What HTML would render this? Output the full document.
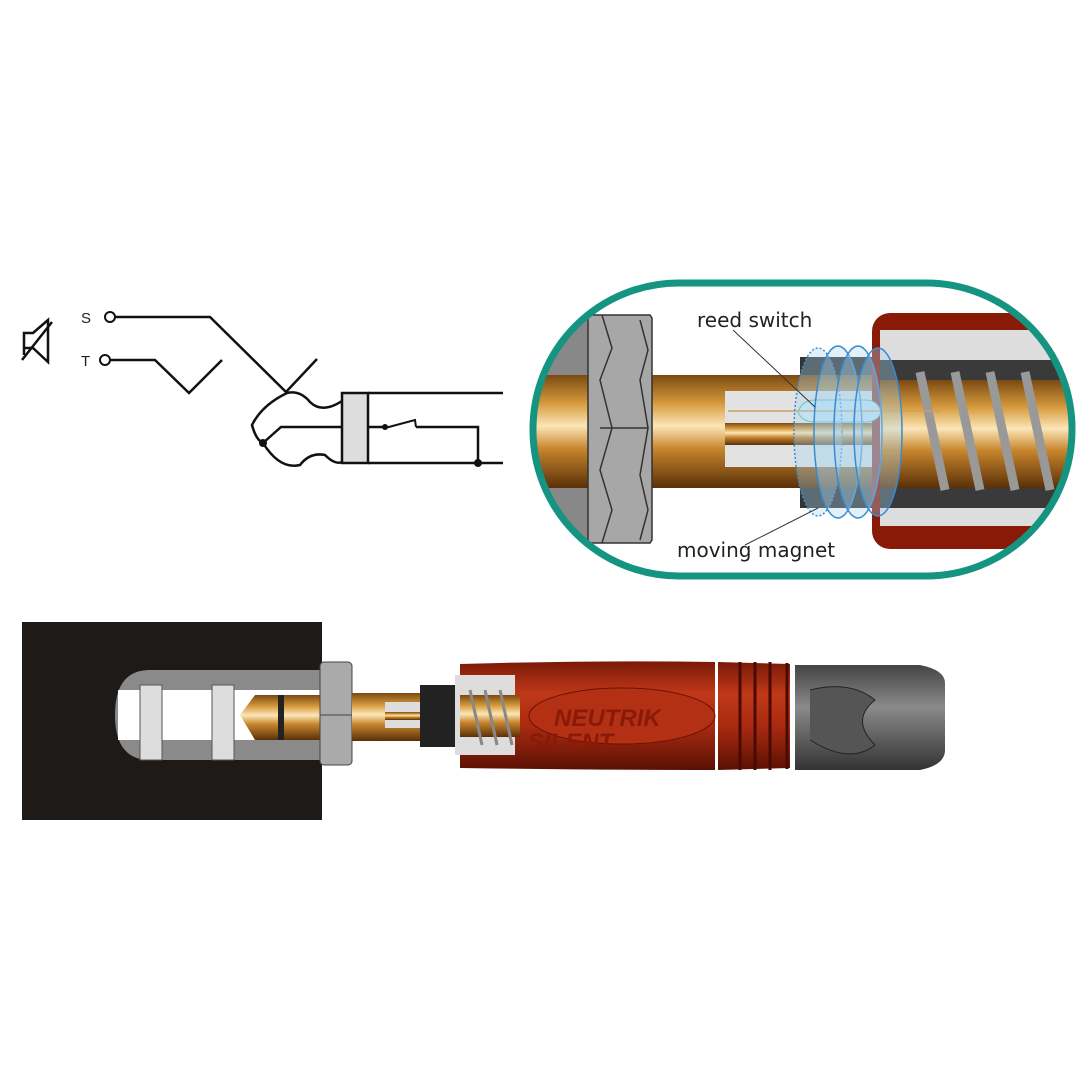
<!DOCTYPE html>
<html><head><style>body{margin:0;background:#fff}svg{display:block}</style></head><body>
<svg width="1080" height="1080" viewBox="0 0 1080 1080" xmlns="http://www.w3.org/2000/svg">
<defs>
<linearGradient id="gold" x1="0" y1="0" x2="0" y2="1">
<stop offset="0" stop-color="#7a4a12"/><stop offset="0.25" stop-color="#d69a3c"/><stop offset="0.45" stop-color="#fbe6b8"/><stop offset="0.65" stop-color="#c8862e"/><stop offset="1" stop-color="#5a3008"/></linearGradient>
<linearGradient id="red" x1="0" y1="0" x2="0" y2="1">
<stop offset="0" stop-color="#7a1a08"/><stop offset="0.3" stop-color="#c03818"/><stop offset="0.6" stop-color="#a82a10"/><stop offset="1" stop-color="#5a1004"/></linearGradient>
<linearGradient id="gray" x1="0" y1="0" x2="0" y2="1">
<stop offset="0" stop-color="#444"/><stop offset="0.4" stop-color="#8a8a8a"/><stop offset="1" stop-color="#333"/></linearGradient>
<clipPath id="ins"><rect x="533" y="283" width="539" height="293" rx="146"/></clipPath>
</defs>
<!-- schematic -->
<g fill="none" stroke="#111" stroke-width="2.5">
<path d="M24 355 L24 333 L33 333 L48 320 L48 362 L33 348 L24 348" stroke-width="2.5"/>
<path d="M22 360 L52 322"/>
<circle cx="110" cy="317" r="5" stroke-width="2"/>
<circle cx="105" cy="360" r="5" stroke-width="2"/>
<path d="M115 317 H210 L287 393"/>
<path d="M110 360 H155 L189 393 L222 360"/>
<path d="M317 359 L286 392"/>
<path d="M287 393 Q300 390 310 402 Q322 414 342 401"/>
<path d="M287 393 Q262 405 252 425 Q256 440 263 443 Q280 470 300 465 Q310 452 325 455 Q335 465 342 462"/>
<path d="M263 443 L281 427 H385 M416 427 H478 V463"/>
<path d="M368 393 H503 M368 463 H503"/>
<rect x="342" y="393" width="26" height="70" fill="#ddd"/>
</g>
<path d="M385 428 L415 420 L416 427" fill="none" stroke="#111" stroke-width="2"/>
<circle cx="385" cy="427" r="3" fill="#111"/>
<circle cx="263" cy="443" r="4" fill="#111"/>
<circle cx="478" cy="463" r="4" fill="#111"/>
<text x="81" y="323" font-family="Liberation Sans, sans-serif" font-size="15" fill="#222">S</text>
<text x="81" y="366" font-family="Liberation Sans, sans-serif" font-size="15" fill="#222">T</text>

<!-- inset -->
<g clip-path="url(#ins)">
<rect x="530" y="280" width="550" height="300" fill="#fff"/>
<rect x="530" y="315" width="60" height="60" fill="#888"/>
<rect x="530" y="488" width="60" height="55" fill="#888"/>
<rect x="530" y="375" width="550" height="113" fill="url(#gold)"/>
<rect x="725" y="391" width="215" height="76" fill="#e2e2e2"/>
<rect x="725" y="423" width="215" height="22" fill="url(#gold)"/>
<rect x="800" y="357" width="72" height="18" fill="#333"/>
<rect x="800" y="488" width="72" height="20" fill="#333"/>
<path d="M588 315 H650 L652 318 V540 L650 543 H588 Z" fill="#a7a7a7" stroke="#333" stroke-width="1.5"/>
<path d="M602 315 L612 348 L600 380 L612 428 L600 470 L612 510 L602 543 M640 320 L648 350 L640 380 L648 428 L640 475 L648 510 L640 540 M600 428 H648" fill="none" stroke="#333" stroke-width="1.5"/>
<rect x="872" y="313" width="210" height="236" rx="18" fill="#8a1a08"/>
<rect x="880" y="330" width="200" height="196" fill="#ddd"/>
<rect x="880" y="360" width="200" height="20" fill="#3a3a3a"/>
<rect x="880" y="488" width="200" height="20" fill="#3a3a3a"/>
<rect x="880" y="380" width="200" height="108" fill="url(#gold)"/>
<g stroke="#999" stroke-width="9" fill="none">
<path d="M920 372 L945 490 M955 372 L980 490 M990 372 L1015 490 M1025 372 L1050 490"/>
</g>
<path d="M798 412 Q802 400 815 400 H865 Q878 400 881 412 Q878 422 865 422 H815 Q802 422 798 412Z" fill="#cfe8f3" stroke="#5aa" stroke-width="1"/>
<path d="M728 411 H940" stroke="#c9a060" stroke-width="1.5"/>
<g fill="#a8d8f0" fill-opacity="0.35" stroke="#3a8ad0" stroke-width="1.5">
<ellipse cx="818" cy="432" rx="24" ry="84" stroke-dasharray="2 2"/>
<ellipse cx="838" cy="432" rx="24" ry="86"/>
<ellipse cx="858" cy="432" rx="24" ry="86"/>
<ellipse cx="878" cy="432" rx="24" ry="84"/>
</g>
</g>
<rect x="533" y="283" width="539" height="293" rx="146" fill="none" stroke="#169482" stroke-width="7"/>
<path d="M733 330 L815 407 M745 545 L818 508" stroke="#333" stroke-width="1"/>
<text x="697" y="327" font-family="DejaVu Sans, sans-serif" font-size="20" fill="#222">reed switch</text>
<text x="677" y="557" font-family="DejaVu Sans, sans-serif" font-size="20" fill="#222">moving magnet</text>

<!-- bottom plug -->
<rect x="22" y="622" width="300" height="198" fill="#1e1a18"/>
<path d="M150 670 H322 V760 H150 Q115 760 115 715 Q115 670 150 670Z" fill="#8a8a8a"/>
<rect x="118" y="690" width="204" height="50" fill="#fff"/>
<rect x="140" y="685" width="22" height="75" fill="#ddd" stroke="#555"/>
<rect x="212" y="685" width="22" height="75" fill="#ddd" stroke="#555"/>
<path d="M240 715 L255 695 H270 V740 H255 Z" fill="url(#gold)"/>
<rect x="270" y="695" width="52" height="45" fill="url(#gold)"/>
<rect x="278" y="695" width="6" height="45" fill="#222"/>
<rect x="320" y="662" width="32" height="103" rx="4" fill="#aaa" stroke="#444"/>
<path d="M320 715 H352" stroke="#444"/>
<rect x="352" y="693" width="110" height="48" fill="url(#gold)"/>
<rect x="385" y="702" width="75" height="26" fill="#ddd"/>
<rect x="385" y="712" width="75" height="8" fill="url(#gold)"/>
<rect x="420" y="685" width="35" height="62" fill="#222"/>
<path d="M460 664 Q600 660 715 662 V770 Q600 770 460 768 Z" fill="url(#red)"/>
<rect x="455" y="675" width="60" height="80" fill="#ddd"/>
<rect x="460" y="695" width="60" height="42" fill="url(#gold)"/>
<g stroke="#888" stroke-width="3"><path d="M470 690 L482 745 M485 690 L497 745 M500 690 L512 745"/></g>
<path d="M718 662 L790 664 V768 L718 770Z" fill="url(#red)"/>
<g stroke="#4a0a02" stroke-width="3"><path d="M740 662 V770 M755 662 V770 M770 662 V770 M787 663 V769"/></g>
<path d="M795 665 H920 Q945 670 945 683 V750 Q945 765 920 770 H795 Z" fill="url(#gray)"/>
<path d="M810 690 Q850 680 875 700 Q850 720 875 745 Q850 765 810 740" fill="#555" stroke="#222"/>
<ellipse cx="622" cy="716" rx="93" ry="28" fill="#b33014" stroke="#6a1204"/>
<text x="554" y="726" font-family="Liberation Sans, sans-serif" font-weight="bold" font-style="italic" font-size="24" fill="#8a1a08">NEUTRIK</text>
<text x="528" y="750" font-family="Liberation Sans, sans-serif" font-weight="bold" font-style="italic" font-size="24" fill="#8a1a08">SILENT</text>
</svg>
</body></html>
